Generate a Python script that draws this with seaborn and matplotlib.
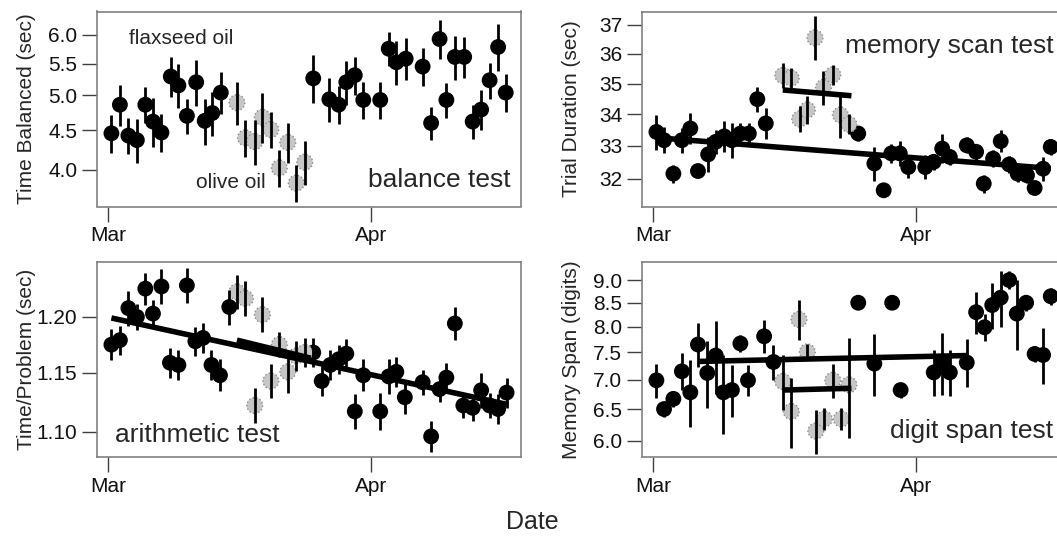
import numpy as np
import pandas as pd
import matplotlib
matplotlib.use("Agg")
import matplotlib.pyplot as plt
from matplotlib.ticker import FixedLocator, FixedFormatter, NullLocator
import seaborn as sns

# ---------------- data (x = days since Mar 1) ----------------
month_ticks = [0, 31]
month_labels = ["Mar", "Apr"]

# balance test
bal_flax_day = [0.4, 1.4, 2.4, 3.4, 4.4, 5.3, 6.3, 7.4, 8.3, 9.3, 10.4, 11.4, 12.3, 13.3,
                24.2, 26.1, 27.2, 28.1, 29.1, 30.1, 32.1, 33.1, 34.0, 35.1, 37.1, 38.1, 39.1,
                39.9, 40.9, 42.0, 43.0, 44.0, 45.0, 46.0, 46.9]
bal_flax_val = [4.46, 4.86, 4.43, 4.37, 4.86, 4.62, 4.47, 5.29, 5.15, 4.70, 5.20, 4.63, 4.74, 5.04,
                5.26, 4.94, 4.86, 5.20, 5.31, 4.93, 4.93, 5.75, 5.52, 5.58, 5.45, 4.60, 5.92,
                4.93, 5.61, 5.61, 4.62, 4.79, 5.23, 5.78, 5.04]
bal_flax_err = [0.25, 0.30, 0.24, 0.29, 0.26, 0.34, 0.25, 0.32, 0.34, 0.25, 0.36, 0.32, 0.31, 0.32,
                0.38, 0.32, 0.28, 0.34, 0.30, 0.28, 0.28, 0.29, 0.36, 0.35, 0.31, 0.23, 0.35,
                0.26, 0.37, 0.35, 0.23, 0.29, 0.28, 0.41, 0.29]
bal_olive_day = [15.2, 16.2, 17.3, 18.2, 19.2, 20.2, 21.2, 22.2, 23.2]
bal_olive_val = [4.89, 4.40, 4.35, 4.68, 4.51, 4.02, 4.34, 3.84, 4.09]
bal_olive_err = [0.32, 0.24, 0.29, 0.35, 0.24, 0.22, 0.26, 0.21, 0.27]

# memory scan test
scan_flax_day = [0.4, 1.3, 2.4, 3.4, 4.4, 5.3, 6.5, 7.4, 8.4, 9.3, 10.3, 11.3, 12.3, 13.3,
                 24.2, 26.1, 27.2, 28.1, 29.1, 30.1, 32.1, 33.1, 34.1, 35.0, 37.0, 38.1, 39.0,
                 40.1, 41.0, 42.0, 43.0, 44.1, 45.0, 46.0, 46.9]
scan_flax_val = [33.44, 33.18, 32.15, 33.18, 33.55, 32.23, 32.74, 33.13, 33.30, 33.18, 33.39, 33.39, 34.49, 33.71,
                 33.39, 32.46, 31.65, 32.77, 32.77, 32.35, 32.35, 32.51, 32.92, 32.66, 33.02, 32.82, 31.85,
                 32.61, 33.15, 32.43, 32.15, 32.10, 31.72, 32.30, 32.97]
scan_flax_err = [0.55, 0.41, 0.27, 0.39, 0.48, 0.15, 0.54, 0.38, 0.50, 0.55, 0.32, 0.32, 0.41, 0.48,
                 0.25, 0.52, 0.21, 0.28, 0.39, 0.34, 0.37, 0.25, 0.44, 0.25, 0.25, 0.25, 0.27,
                 0.25, 0.35, 0.25, 0.25, 0.24, 0.21, 0.37, 0.25]
scan_olive_day = [15.3, 16.3, 17.3, 18.2, 19.1, 20.1, 21.2, 22.1, 23.1]
scan_olive_val = [35.27, 35.18, 33.85, 34.14, 36.54, 34.87, 35.29, 33.98, 33.68]
scan_olive_err = [0.42, 0.33, 0.42, 0.45, 0.76, 0.56, 0.33, 0.72, 0.32]
scan_flax_fit_day = [1.3, 46.9]
scan_flax_fit_val = [33.24, 32.31]
scan_olive_fit_day = [15.3, 23.4]
scan_olive_fit_val = [34.79, 34.60]

# arithmetic test
arith_flax_day = [0.4, 1.4, 2.4, 3.4, 4.4, 5.3, 6.3, 7.3, 8.3, 9.3, 10.3, 11.2, 12.2, 13.2, 14.3,
                  24.2, 25.2, 26.2, 27.2, 28.1, 29.1, 30.1, 32.1, 33.1, 34.0, 35.0, 37.1, 38.1,
                  39.1, 39.9, 40.9, 41.9, 43.0, 44.0, 45.0, 46.0, 47.0]
arith_flax_val = [1.175, 1.179, 1.208, 1.200, 1.226, 1.203, 1.228, 1.159, 1.157, 1.229, 1.178, 1.181, 1.157, 1.148, 1.209,
                  1.168, 1.143, 1.157, 1.162, 1.167, 1.117, 1.148, 1.117, 1.147, 1.151, 1.129, 1.142, 1.096,
                  1.136, 1.146, 1.194, 1.122, 1.120, 1.135, 1.122, 1.119, 1.133]
arith_flax_err = [0.014, 0.013, 0.016, 0.012, 0.015, 0.012, 0.016, 0.013, 0.013, 0.016, 0.013, 0.013, 0.013, 0.014, 0.016,
                  0.013, 0.013, 0.013, 0.013, 0.013, 0.015, 0.014, 0.016, 0.015, 0.013, 0.014, 0.011, 0.013,
                  0.011, 0.013, 0.015, 0.011, 0.011, 0.015, 0.011, 0.013, 0.013]
arith_olive_day = [15.2, 16.2, 17.3, 18.2, 19.2, 20.2, 21.2, 22.2, 23.2]
arith_olive_val = [1.223, 1.217, 1.122, 1.202, 1.143, 1.175, 1.151, 1.165, 1.168]
arith_olive_err = [0.016, 0.016, 0.015, 0.016, 0.015, 0.011, 0.018, 0.013, 0.013]
arith_flax_fit_day = [0.4, 47.0]
arith_flax_fit_val = [1.199, 1.123]
arith_olive_fit_day = [15.2, 23.9]
arith_olive_fit_val = [1.179, 1.163]

# digit span test
dig_flax_day = [0.4, 1.3, 2.4, 3.4, 4.4, 5.3, 6.4, 7.4, 8.3, 9.3, 10.3, 11.2, 13.1, 14.2,
                24.2, 26.1, 28.2, 29.2, 33.1, 34.1, 35.0, 37.0, 38.1, 39.1, 40.0, 41.0, 42.0,
                42.9, 44.0, 45.0, 46.0, 46.9]
dig_flax_val = [6.99, 6.50, 6.67, 7.15, 6.78, 7.65, 7.12, 7.44, 6.78, 6.82, 7.67, 6.99, 7.81, 7.32,
                8.50, 7.29, 8.50, 6.82, 7.13, 7.31, 7.13, 7.31, 8.30, 7.99, 8.45, 8.61, 9.00,
                8.27, 8.50, 7.47, 7.45, 8.64]
dig_flax_err = [0.30, 0.13, 0.14, 0.33, 0.57, 0.43, 0.60, 0.68, 0.67, 0.45, 0.16, 0.27, 0.32, 0.32,
                0.05, 0.57, 0.05, 0.13, 0.42, 0.57, 0.42, 0.44, 0.44, 0.28, 0.49, 0.61, 0.21,
                0.73, 0.17, 0.15, 0.52, 0.18]
dig_olive_day = [15.3, 16.3, 17.2, 18.2, 19.2, 20.2, 21.2, 22.2, 23.1]
dig_olive_val = [6.97, 6.46, 8.15, 7.51, 6.15, 6.34, 6.99, 6.34, 6.91]
dig_olive_err = [0.48, 0.57, 0.41, 0.15, 0.34, 0.18, 0.30, 0.18, 0.86]
dig_flax_fit_day = [5.3, 37.0]
dig_flax_fit_val = [7.33, 7.44]
dig_olive_fit_day = [15.3, 23.4]
dig_olive_fit_val = [6.82, 6.85]

bal_ticks = [4.0, 4.5, 5.0, 5.5, 6.0]
scan_ticks = [32, 33, 34, 35, 36, 37]
arith_ticks = [1.10, 1.15, 1.20]
dig_ticks = [6.0, 6.5, 7.0, 7.5, 8.0, 8.5, 9.0]

# ---------------- style ----------------
sns.set_style("ticks")
plt.rcParams["font.family"] = ["Liberation Sans", "DejaVu Sans"]
FRAME = "#808080"
TICKC = "#404040"

W, H = 1057, 540
fig = plt.figure(figsize=(W / 100, H / 100), dpi=100)


def make_ax(left_px, top_px):
    return fig.add_axes([left_px / W, 1 - (top_px + 195) / H, 424 / W, 195 / H])


def panel(ax, fd, fv, fe, od, ov, oe, fits, ylim, yticks, fmt, ylabel):
    df_f = pd.DataFrame({"day": fd, "val": fv})
    df_o = pd.DataFrame({"day": od, "val": ov})
    sns.scatterplot(data=df_f, x="day", y="val", color="black", s=130,
                    edgecolor="none", ax=ax, zorder=3, legend=False)
    sns.scatterplot(data=df_o, x="day", y="val", color="#c6c6c6", s=130,
                    edgecolor="#8c8c8c", linewidth=1.0, linestyle=":",
                    ax=ax, zorder=3, legend=False)
    ax.errorbar(fd, fv, yerr=fe, fmt="none", ecolor="black", elinewidth=2, capsize=0, zorder=4)
    ax.errorbar(od, ov, yerr=oe, fmt="none", ecolor="black", elinewidth=2, capsize=0, zorder=4)
    for fx, fy in fits:
        ax.plot(fx, fy, color="black", lw=4, solid_capstyle="butt", zorder=5)
    ax.set_yscale("log")
    ax.set_ylim(*ylim)
    ax.yaxis.set_major_locator(FixedLocator(yticks))
    ax.yaxis.set_major_formatter(FixedFormatter([fmt.format(t) for t in yticks]))
    ax.yaxis.set_minor_locator(NullLocator())
    ax.set_xlim(-1.3, 48.7)
    ax.set_xticks(month_ticks)
    ax.set_xticklabels(month_labels)
    ax.set_xlabel("")
    ax.set_ylabel(ylabel, fontsize=15)
    ax.yaxis.set_label_coords(-61 / 424, 0.5)
    ax.tick_params(axis="both", length=10.8, width=1.0, color=TICKC, pad=3.5,
                   labelsize=15, labelcolor="#111111")
    for sp in ax.spines.values():
        sp.set_color(FRAME)
        sp.set_linewidth(1.2)


ax1 = make_ax(97, 11.5)
panel(ax1, bal_flax_day, bal_flax_val, bal_flax_err, bal_olive_day, bal_olive_val, bal_olive_err,
      [], (3.58, 6.43), bal_ticks, "{:.1f}", "Time Balanced (sec)")
ax1.text(0.076, 0.832, "flaxseed oil", transform=ax1.transAxes, fontsize=15, ha="left", va="baseline")
ax1.text(0.2335, 0.096, "olive oil", transform=ax1.transAxes, fontsize=15, ha="left", va="baseline")
ax1.text(0.9757, 0.1015, "balance test", transform=ax1.transAxes, fontsize=19, ha="right", va="baseline")

ax2 = make_ax(642, 11.5)
panel(ax2, scan_flax_day, scan_flax_val, scan_flax_err, scan_olive_day, scan_olive_val, scan_olive_err,
      [(scan_flax_fit_day, scan_flax_fit_val), (scan_olive_fit_day, scan_olive_fit_val)],
      (31.17, 37.46), scan_ticks, "{:.0f}", "Trial Duration (sec)")
ax2.text(0.970, 0.786, "memory scan test", transform=ax2.transAxes, fontsize=19, ha="right", va="baseline")

ax3 = make_ax(97, 262)
panel(ax3, arith_flax_day, arith_flax_val, arith_flax_err, arith_olive_day, arith_olive_val, arith_olive_err,
      [(arith_flax_fit_day, arith_flax_fit_val), (arith_olive_fit_day, arith_olive_fit_val)],
      (1.079, 1.251), arith_ticks, "{:.2f}", "Time/Problem (sec)")
ax3.text(0.0425, 0.078, "arithmetic test", transform=ax3.transAxes, fontsize=19, ha="left", va="baseline")

ax4 = make_ax(642, 262)
panel(ax4, dig_flax_day, dig_flax_val, dig_flax_err, dig_olive_day, dig_olive_val, dig_olive_err,
      [(dig_flax_fit_day, dig_flax_fit_val), (dig_olive_fit_day, dig_olive_fit_val)],
      (5.76, 9.42), dig_ticks, "{:.1f}", "Memory Span (digits)")
ax4.text(0.970, 0.099, "digit span test", transform=ax4.transAxes, fontsize=19, ha="right", va="baseline")

fig.text(532 / W, 1 - 522 / H, "Date", fontsize=18, ha="center", va="center")

fig.savefig("out.png", dpi=100)
